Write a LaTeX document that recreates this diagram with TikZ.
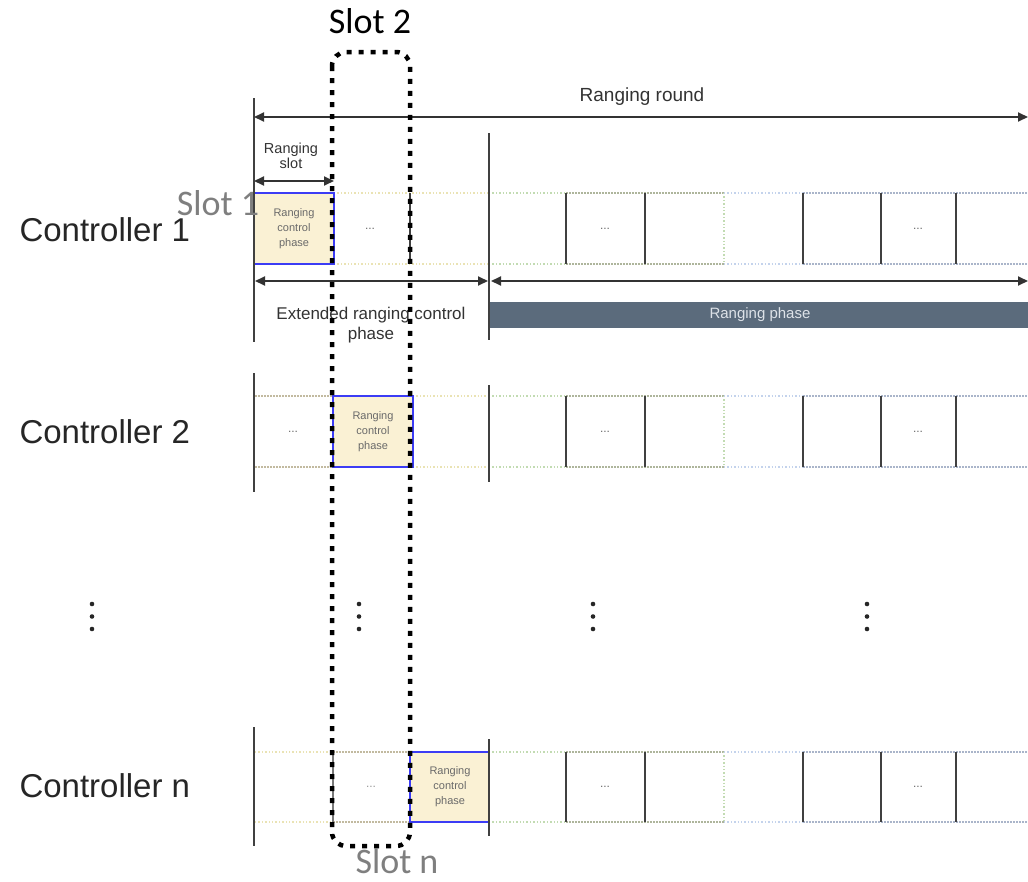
\documentclass[tikz,border=0pt]{standalone}
\usepackage{fontspec}
\setmainfont{Liberation Sans}
\newfontfamily\slotfont{Carlito}
\usetikzlibrary{arrows.meta}

\definecolor{ink}{HTML}{333333}
\definecolor{softink}{HTML}{6A6A6A}
\definecolor{vline}{HTML}{404040}
\definecolor{ctrlfill}{HTML}{FAF1D4}
\definecolor{ctrlblue}{HTML}{3C3CF5}
\definecolor{bandyellow}{HTML}{EAE3B4}
\definecolor{bandgreen}{HTML}{C2DBB2}
\definecolor{bandblue}{HTML}{C4D3EC}
\definecolor{celltan}{HTML}{C2BAA0}
\definecolor{cellgreen}{HTML}{AEB59C}
\definecolor{cellblue}{HTML}{AAB5CA}
\definecolor{phasebar}{HTML}{5B6B7C}
\definecolor{phasetext}{HTML}{DDE2E8}
\definecolor{slotgray}{HTML}{7F7F7F}

\tikzset{
  x=1pt, y=-1pt,
  tick/.style={draw=vline, line width=2.8pt},
  thintick/.style={draw=vline, line width=2.1pt},
  band/.style={line width=1.4pt, dotted},
  cellline/.style={line width=2pt, dash pattern=on 2pt off 1pt},
  ctrlbox/.style={draw=ctrlblue, fill=ctrlfill, line width=1.8pt},
  ctrltext/.style={text=softink, align=center, font=\fontsize{11}{15}\selectfont},
  celldots/.style={text=softink, font=\fontsize{12}{12}\selectfont},
  dimarrow/.style={draw=ink, line width=1.9pt,
    {Triangle[length=10pt,width=9pt]}-{Triangle[length=10pt,width=9pt]}},
  dimlabel/.style={text=ink, align=center},
  ctrllabel/.style={anchor=west, text=black!85, font=\fontsize{33}{36}\selectfont},
  slotlabel/.style={anchor=base, inner sep=1pt, font=\slotfont\fontsize{36}{40}\selectfont},
  slotframe/.style={draw=black, line width=4.5pt, dash pattern=on 5pt off 7pt,
    rounded corners=14pt},
  vdot/.style={fill=black!85, draw=none}
}

% Cells of the ranging phase, shared by every controller row
\newcommand\rangingcells[3]{%
  \draw[band, bandgreen] (489,#2) -- (566,#2) (489,#3) -- (566,#3);
  \draw[cellline, cellgreen] (566,#2) -- (724,#2) (566,#3) -- (724,#3);
  \draw[band, bandgreen] (724,#2) -- (724,#3);
  \draw[band, bandblue] (724,#2) -- (803,#2) (724,#3) -- (803,#3);
  \draw[cellline, cellblue] (803,#2) -- (1028,#2) (803,#3) -- (1028,#3);
  \foreach \cx in {566,645,803,881,956} \draw[thintick] (\cx,#2) -- (\cx,#3);
  \node[celldots] (#1a) at (605,{(#2+#3)/2}) {...};
  \node[celldots] (#1b) at (918,{(#2+#3)/2}) {...};
}

\begin{document}
\begin{tikzpicture}
\useasboundingbox (0,0) rectangle (1028,881);

% ---------- controller 1 ----------
\draw[band, bandyellow] (334,193) -- (489,193) (334,264) -- (489,264);
\draw[thintick] (410,193) -- (410,264);
\node[celldots] (c1dots) at (370,229) {...};
\rangingcells{c1}{193}{264}
\draw[ctrlbox] (254,193) rectangle (334,264);
\node[ctrltext] (c1ctrl) at (294,229) {Ranging\\control\\phase};
\draw[tick] (254,98) -- (254,342);
\draw[tick] (489,133) -- (489,340);

% dimensions above and below controller 1
\coordinate (rrL) at (254,117);
\coordinate (rrR) at (1028,117);
\draw[dimarrow] (rrL) -- (rrR);
\node[dimlabel, font=\fontsize{19}{20}\selectfont] (rround) at (642,97) {Ranging round};

\coordinate (rsL) at (254,181);
\coordinate (rsR) at (334,181);
\draw[dimarrow] (rsL) -- (rsR);
\node[dimlabel, font=\fontsize{14.5}{15}\selectfont] (rslot) at (291,156) {Ranging\\slot};

\coordinate (exL) at (255,281);
\coordinate (exR) at (488,281);
\draw[dimarrow] (exL) -- (exR);
\node[dimlabel, font=\fontsize{17}{20}\selectfont] (extctrl) at (371,325) {Extended ranging control\\phase};

\coordinate (rpL) at (491,281);
\coordinate (rpR) at (1028,281);
\draw[dimarrow] (rpL) -- (rpR);
\node[fill=phasebar, minimum height=26pt, minimum width=538pt, inner sep=0pt,
  anchor=west] (rphase) at (490,315) {};
\node[text=phasetext, font=\fontsize{15}{15}\selectfont] (rphasetext) at (760,315) {Ranging phase};

% ---------- controller 2 ----------
\draw[cellline, celltan] (255,396) -- (333,396) (255,467) -- (333,467);
\node[celldots] (c2dots) at (293,432) {...};
\draw[band, bandyellow] (413,396) -- (489,396) (413,467) -- (489,467);
\rangingcells{c2}{396}{467}
\draw[ctrlbox] (333,396) rectangle (413,467);
\node[ctrltext] (c2ctrl) at (373,432) {Ranging\\control\\phase};
\draw[tick] (254,373) -- (254,492);
\draw[tick] (489,385) -- (489,482);

% ---------- controller n ----------
\draw[band, bandyellow] (255,752) -- (333,752) (255,822) -- (333,822);
\draw[cellline, celltan] (333,752) -- (410,752) (333,822) -- (410,822);
\draw[thintick, draw=vline!70] (333,752) -- (333,822);
\node[celldots, text=softink!70] (cndots) at (371,787) {...};
\rangingcells{cn}{752}{822}
\draw[ctrlbox] (410,752) rectangle (489,822);
\node[ctrltext] (cnctrl) at (450,787) {Ranging\\control\\phase};
\draw[tick] (254,727) -- (254,846);
\draw[tick] (489,739) -- (489,836);

% ---------- controller labels ----------
\node[ctrllabel] (ctrl1) at (16,230) {Controller 1};
\node[ctrllabel] (ctrl2) at (16,432) {Controller 2};
\node[ctrllabel] (ctrln) at (16,786) {Controller n};

% ---------- vertical ellipses ----------
\foreach \vx in {92,359,593,867} {
  \foreach \vy in {604,616.5,629} \fill[vdot] (\vx,\vy) circle (2.3pt);
}

% ---------- slot 2 frame and slot labels ----------
\draw[slotframe] (332,52) rectangle (410,846);
\node[slotlabel, text=black] (slot2) at (370,33) {Slot 2};
\node[slotlabel, text=slotgray] (slot1) at (218,215) {Slot 1};
\node[slotlabel, text=slotgray] (slotn) at (397,873) {Slot n};
\end{tikzpicture}
\end{document}
